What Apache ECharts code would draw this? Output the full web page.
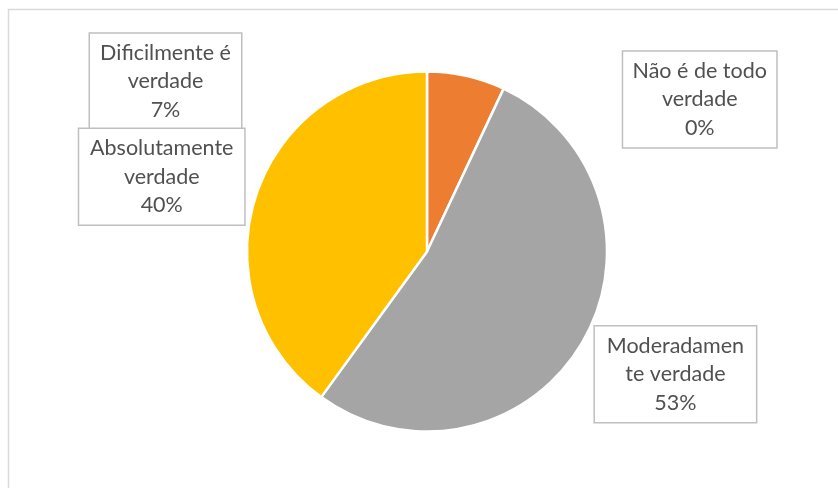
<!DOCTYPE html>
<html>
<head>
<meta charset="utf-8">
<script src="https://cdn.jsdelivr.net/npm/echarts@6/dist/echarts.min.js"></script>
<style>
  html, body { margin: 0; padding: 0; background: #ffffff; }
  #chart { width: 838px; height: 488px; }
</style>
</head>
<body>
<div id="chart"></div>
<script>
// Answer categories, in clockwise order from 12 o'clock
var categories = ['Não é de todo verdade', 'Dificilmente é verdade', 'Moderadamente verdade', 'Absolutamente verdade'];
// How each category name wraps inside its label box
var labelLines = [
  ['Não é de todo', 'verdade'],
  ['Dificilmente é', 'verdade'],
  ['Moderadamen', 'te verdade'],
  ['Absolutamente', 'verdade']
];
// Share of responses (%)
var shares = [0, 7, 53, 40];
var sliceColors = ['#4472C4', '#ED7D31', '#A5A5A5', '#FFC000'];

// Label box centres, as fractions of the chart width / height
var labelSpots = [
  [0.835, 0.204],
  [0.1975, 0.167],
  [0.806, 0.767],
  [0.193, 0.362]
];
var labelWidths = [139, 137, 147, 151];

var chart = echarts.init(document.getElementById('chart'), null, { renderer: 'canvas' });

var data = categories.map(function (name, i) {
  return {
    name: name,
    value: shares[i],
    itemStyle: { color: sliceColors[i] },
    label: { width: labelWidths[i] }
  };
});

chart.setOption({
  animation: false,
  graphic: [{
    type: 'rect',
    shape: { x: 8.5, y: 9.5, width: 900, height: 600 },
    style: { fill: 'none', stroke: '#d9d9d9', lineWidth: 1.5 },
    silent: true
  }],
  series: [{
    type: 'pie',
    center: [427, 251.5],
    radius: [0, 180],
    startAngle: 90,
    clockwise: true,
    avoidLabelOverlap: false,
    itemStyle: { borderColor: '#ffffff', borderWidth: 2.5 },
    label: {
      show: true,
      position: 'outside',
      fontFamily: 'Lato',
      fontSize: 21.5,
      lineHeight: 28.5,
      color: '#505050',
      align: 'center',
      backgroundColor: '#ffffff',
      borderColor: '#bfbfbf',
      borderWidth: 1.5,
      padding: [5, 7, 5, 7],
      formatter: function (p) {
        return labelLines[p.dataIndex].join('\n') + '\n' + p.percent + '%';
      }
    },
    labelLine: { show: false },
    labelLayout: function (p) {
      var w = chart.getWidth(), h = chart.getHeight();
      var s = labelSpots[p.dataIndex];
      return { x: s[0] * w, y: s[1] * h, align: 'center', verticalAlign: 'middle', hideOverlap: false };
    },
    data: data
  }]
});
</script>
</body>
</html>
